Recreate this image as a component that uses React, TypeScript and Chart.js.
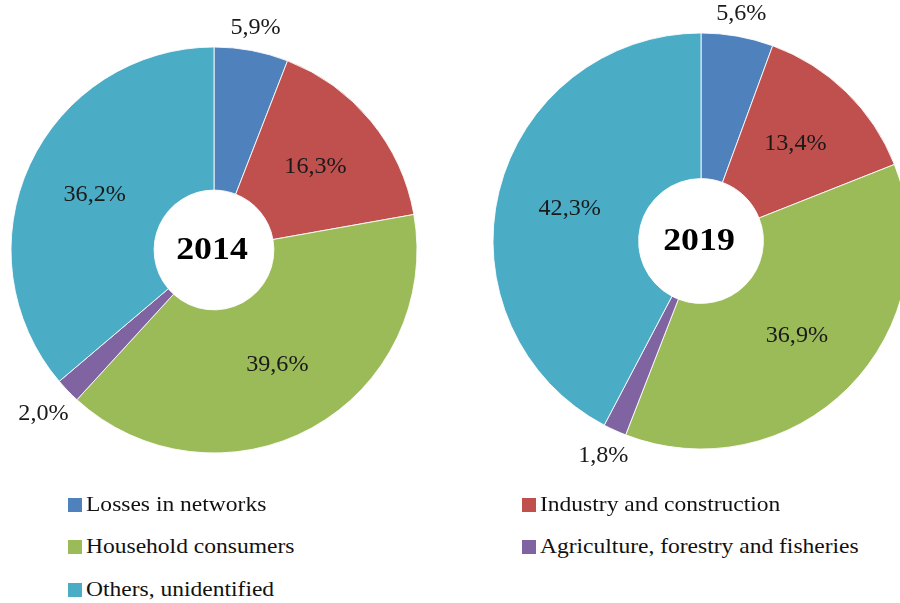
import React, { useEffect, useRef } from "react";
import { Chart, registerables } from "chart.js";

Chart.register(...registerables);

const categories = [
  "Losses in networks",
  "Industry and construction",
  "Household consumers",
  "Agriculture, forestry and fisheries",
  "Others, unidentified",
];
const colors = ["#4F81BD", "#C0504D", "#9BBB59", "#8064A2", "#4BACC6"];
const values2014 = [5.9, 16.3, 39.6, 2.0, 36.2];
const values2019 = [5.6, 13.4, 36.9, 1.8, 42.3];
const years = ["2014", "2019"];

const SERIF = '"Liberation Serif", "Times New Roman", Times, serif';

const sliceLabels = {
  id: "sliceLabels",
  afterDatasetsDraw(chart: any) {
    const ctx = chart.ctx as CanvasRenderingContext2D;
    const meta = chart.getDatasetMeta(0);
    const data = chart.data.datasets[0].data as number[];
    ctx.save();
    ctx.font = `normal 400 23px ${SERIF}`;
    ctx.fillStyle = "#1a1a1a";
    ctx.textAlign = "center";
    ctx.textBaseline = "middle";
    const sx = 1.05;
    meta.data.forEach((arc: any, i: number) => {
      const p = arc.getProps(["x", "y", "startAngle", "endAngle", "innerRadius", "outerRadius"], true);
      const mid = (p.startAngle + p.endAngle) / 2;
      const text = data[i].toFixed(1).replace(".", ",") + "%";
      const w = ctx.measureText(text).width * sx;
      let r: number;
      if (data[i] < 8) {
        r = p.outerRadius + 10 + (w / 2) * Math.abs(Math.cos(mid)) + 8 * Math.abs(Math.sin(mid));
      } else {
        r = (p.innerRadius + p.outerRadius) / 2;
      }
      const x = p.x + r * Math.cos(mid);
      const y = p.y + r * Math.sin(mid);
      ctx.save();
      ctx.translate(x, y);
      ctx.scale(sx, 1);
      ctx.fillText(text, 0, 0);
      ctx.restore();
    });
    const a = chart.chartArea;
    const cx = (a.left + a.right) / 2;
    const cy = (a.top + a.bottom) / 2;
    ctx.font = `normal 700 32px ${SERIF}`;
    ctx.fillStyle = "#000";
    ctx.save();
    ctx.translate(cx - 2, cy + 1);
    ctx.scale(1.12, 1);
    ctx.fillText(chart.options.plugins.centerYear.text, 0, 0);
    ctx.restore();
    ctx.restore();
  },
};

function Doughnut(props: { values: number[]; year: string; radius: number; cutout: string; left: number; top: number }) {
  const ref = useRef<HTMLCanvasElement>(null);
  useEffect(() => {
    if (!ref.current) return;
    const chart = new Chart(ref.current, {
      type: "doughnut",
      data: {
        labels: categories,
        datasets: [
          {
            data: props.values,
            backgroundColor: colors,
            borderColor: "rgba(255,255,255,0.85)",
            borderWidth: 1,
          },
        ],
      },
      options: {
        responsive: false,
        animation: false,
        radius: props.radius,
        cutout: props.cutout,
        layout: { padding: 0 },
        plugins: {
          legend: { display: false },
          tooltip: { enabled: false },
          centerYear: { text: props.year },
        } as any,
      },
      plugins: [sliceLabels],
    } as any);
    let alive = true;
    const fonts = (document as any).fonts;
    if (fonts) {
      Promise.all([
        fonts.load(`400 23px "Liberation Serif"`),
        fonts.load(`700 32px "Liberation Serif"`),
      ])
        .catch(() => null)
        .then(() => {
          if (alive) chart.update();
        });
    }
    return () => {
      alive = false;
      chart.destroy();
    };
  }, []);
  return (
    <canvas
      ref={ref}
      width={500}
      height={500}
      style={{ position: "absolute", left: props.left, top: props.top, width: 500, height: 500 }}
    />
  );
}

const legendRows = [
  { idx: 0, x: 68, y: 498 },
  { idx: 1, x: 522, y: 498 },
  { idx: 2, x: 68, y: 540 },
  { idx: 3, x: 522, y: 540 },
  { idx: 4, x: 68, y: 583 },
];

export default function App() {
  return (
    <div
      style={{
        position: "fixed",
        left: 0,
        top: 0,
        width: 900,
        height: 603,
        overflow: "hidden",
        background: "#fff",
      }}
    >
      <Doughnut values={values2014} year={years[0]} radius={203} cutout="29.5%" left={-36} top={0} />
      <Doughnut values={values2019} year={years[1]} radius={208} cutout="30%" left={451} top={-9} />
      {legendRows.map((r) => (
        <React.Fragment key={r.idx}>
          <div
            style={{
              position: "absolute",
              left: r.x,
              top: r.y,
              width: 14,
              height: 14,
              background: colors[r.idx],
            }}
          />
          <div
            style={{
              position: "absolute",
              left: r.x + 18,
              top: r.y - 4,
              fontFamily: SERIF,
              fontSize: 21,
              lineHeight: "21px",
              color: "#111",
              whiteSpace: "nowrap",
              transform: "scaleX(1.12)",
              transformOrigin: "left center",
            }}
          >
            {categories[r.idx]}
          </div>
        </React.Fragment>
      ))}
    </div>
  );
}
